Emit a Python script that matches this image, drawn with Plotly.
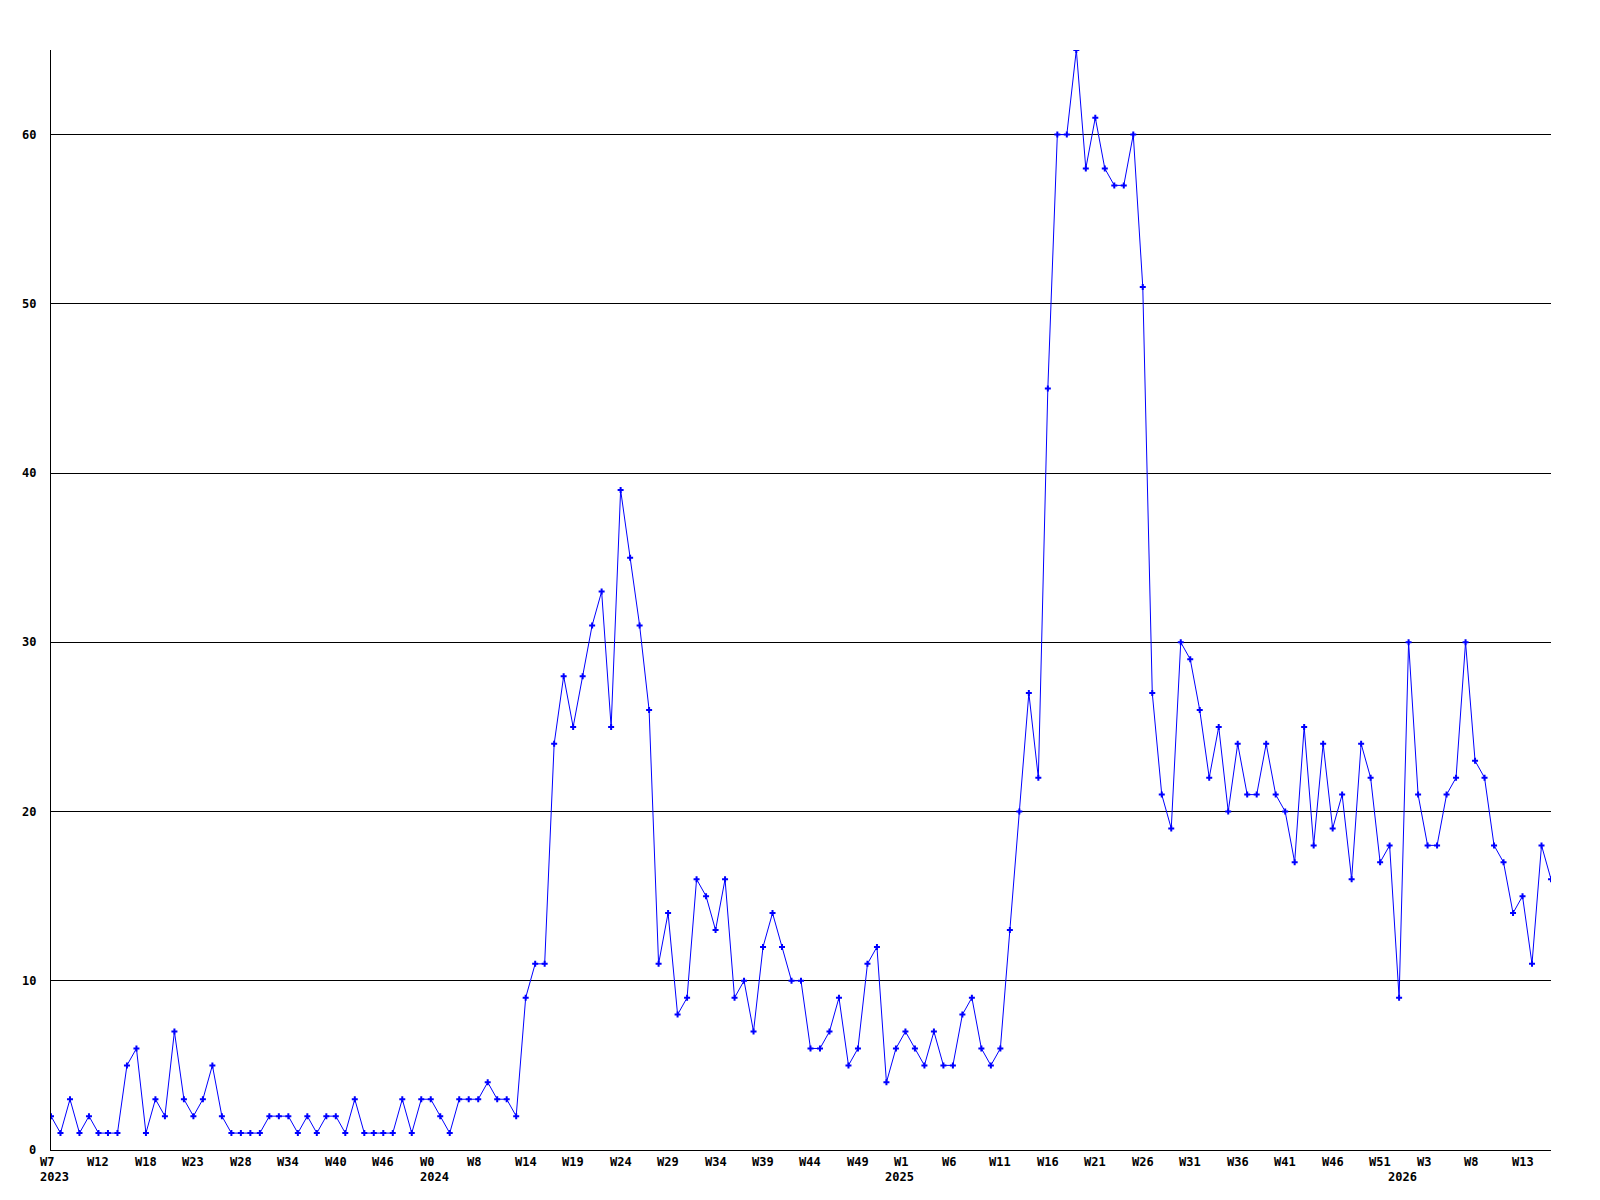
import plotly.graph_objects as go

values = [2, 1, 3, 1, 2, 1, 1, 1, 5, 6, 1, 3, 2, 7, 3, 2, 3, 5, 2, 1,
          1, 1, 1, 2, 2, 2, 1, 2, 1, 2, 2, 1, 3, 1, 1, 1, 1, 3, 1, 3,
          3, 2, 1, 3, 3, 3, 4, 3, 3, 2, 9, 11, 11, 24, 28, 25, 28, 31, 33, 25,
          39, 35, 31, 26, 11, 14, 8, 9, 16, 15, 13, 16, 9, 10, 7, 12, 14, 12, 10, 10,
          6, 6, 7, 9, 5, 6, 11, 12, 4, 6, 7, 6, 5, 7, 5, 5, 8, 9, 6, 5,
          6, 13, 20, 27, 22, 45, 60, 60, 65, 58, 61, 58, 57, 57, 60, 51, 27, 21, 19, 30,
          29, 26, 22, 25, 20, 24, 21, 21, 24, 21, 20, 17, 25, 18, 24, 19, 21, 16, 24, 22,
          17, 18, 9, 30, 21, 18, 18, 21, 22, 30, 23, 22, 18, 17, 14, 15, 11, 18, 16]

week_labels = ["W7", "W12", "W18", "W23", "W28", "W34", "W40", "W46", "W0", "W8",
               "W14", "W19", "W24", "W29", "W34", "W39", "W44", "W49", "W1", "W6",
               "W11", "W16", "W21", "W26", "W31", "W36", "W41", "W46", "W51", "W3",
               "W8", "W13"]
week_label_step = 5

year_labels = ["2023", "2024", "2025", "2026"]
year_label_index = [0, 40, 89, 142]

y_ticks = [0, 10, 20, 30, 40, 50, 60]

x = list(range(len(values)))

fig = go.Figure()
fig.add_trace(go.Scatter(
    x=x, y=values, mode="lines+markers",
    line=dict(color="#0000FF", width=1),
    marker=dict(symbol="cross", size=5, color="#0000FF", line=dict(width=0)),
    hoverinfo="x+y", showlegend=False,
))

font = dict(family="DejaVu Sans Mono", size=12, color="#000000", weight="bold")
ann = []
for i, lab in enumerate(week_labels):
    ann.append(dict(x=i * week_label_step, y=0, xref="x", yref="paper", text=lab,
                    showarrow=False, xanchor="left", yanchor="top",
                    xshift=-13, yshift=-3, font=font))
for lab, idx in zip(year_labels, year_label_index):
    ann.append(dict(x=idx, y=0, xref="x", yref="paper", text=lab,
                    showarrow=False, xanchor="left", yanchor="top",
                    xshift=-13, yshift=-18, font=font))
for v in y_ticks:
    ann.append(dict(x=0, y=v, xref="paper", yref="y", text=str(v),
                    showarrow=False, xanchor="right", yanchor="middle",
                    xshift=-13, font=font))

fig.update_layout(
    width=1584, height=1184,
    margin=dict(l=43, r=41, t=42, b=42),
    paper_bgcolor="white", plot_bgcolor="white",
    annotations=ann,
    xaxis=dict(range=[0, len(values) - 1], showgrid=False, zeroline=False,
               showticklabels=False, ticks="", showline=True,
               linecolor="black", linewidth=1),
    yaxis=dict(range=[0, 65], tickvals=y_ticks[1:], showgrid=True,
               gridcolor="black", gridwidth=1, zeroline=False,
               showticklabels=False, ticks="", showline=True,
               linecolor="black", linewidth=1),
)

fig.write_html("out.html")
